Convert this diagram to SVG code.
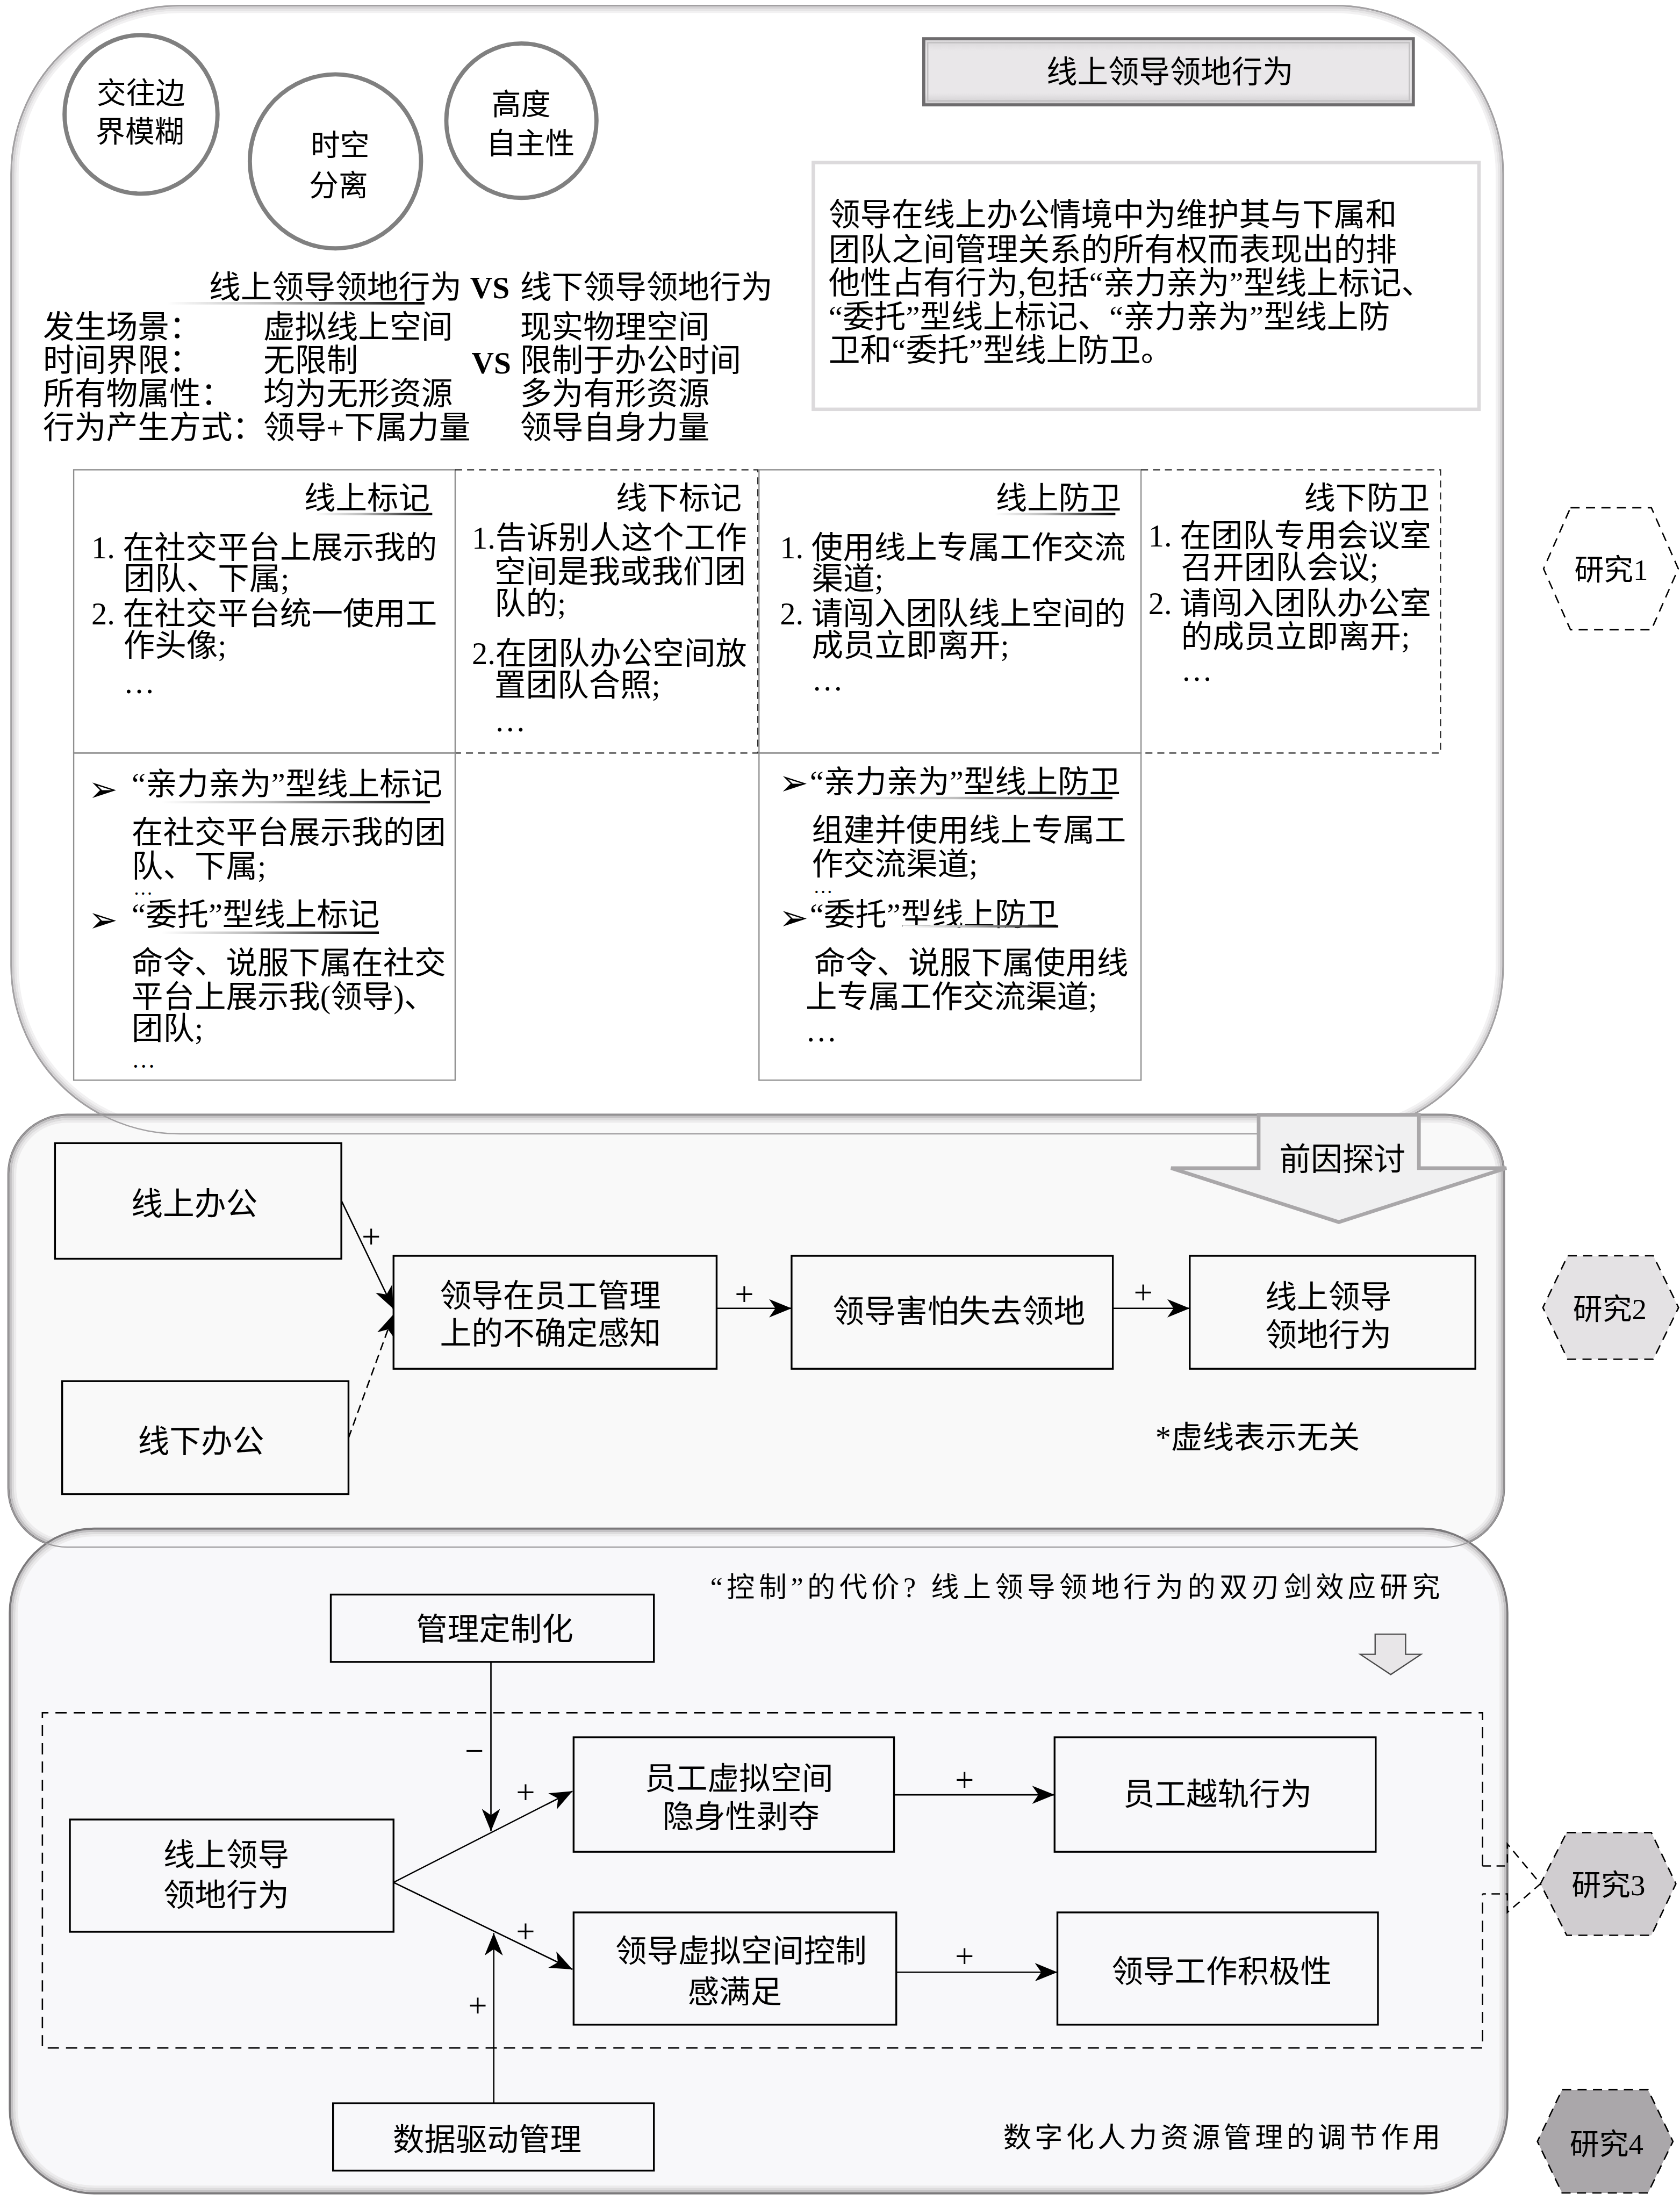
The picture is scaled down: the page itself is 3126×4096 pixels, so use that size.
<svg xmlns="http://www.w3.org/2000/svg" width="3126" height="4096" viewBox="0 0 3126 4096">
<defs>
<style>
.t{font-family:"Liberation Serif","Noto Sans CJK SC",serif;fill:#000}
.f22{font-size:22.4px}
.f225{font-size:22.5px}
.f21{font-size:21px}
.f20{font-size:20px}
.el{font-size:17px}
.el2{font-size:14px}
.pl{font-family:"Liberation Serif",serif;font-size:24px;text-anchor:middle;fill:#000}
.mid{text-anchor:middle}
.end{text-anchor:end}
.box{fill:none;stroke:#000;stroke-width:1.3}
.cell{fill:none;stroke:#8f8f8f;stroke-width:0.9}
.dcell{fill:none;stroke:#2a2a2a;stroke-width:0.9;stroke-dasharray:5 3.5}
.ln{fill:none;stroke:#000;stroke-width:1}
.dash{stroke-dasharray:6 3.5}
.hex{stroke:#000;stroke-width:1;stroke-dasharray:6.5 4.5}
.bul{font-family:"DejaVu Sans",sans-serif;font-size:25px;fill:#000}
.band{fill:none;stroke-width:1.6}
.ulr{fill:url(#ul)}
</style>
<linearGradient id="ul" x1="0" y1="0" x2="1" y2="0">
<stop offset="0" stop-color="#ffffff"/>
<stop offset="0.4" stop-color="#bdbdbd"/>
<stop offset="1" stop-color="#000000"/>
</linearGradient>
<linearGradient id="tb" x1="0" y1="0" x2="0" y2="1">
<stop offset="0" stop-color="#d6d4d6"/>
<stop offset="0.18" stop-color="#e9e7e9"/>
<stop offset="0.82" stop-color="#e9e7e9"/>
<stop offset="1" stop-color="#cfcdcf"/>
</linearGradient>
<marker id="ah" markerUnits="userSpaceOnUse" markerWidth="17" markerHeight="14" refX="16" refY="6.5" orient="auto">
<path d="M0,0 L16,6.5 L0,13 L4.5,6.5 Z" fill="#000"/>
</marker>
</defs>
<rect x="0" y="0" width="3126" height="4096" fill="#ffffff"/>
<g transform="scale(2.6115)">

<!-- Panel 1 -->
<g id="panel1">
<rect x="8" y="4" width="1063" height="804" rx="120" fill="#ffffff"/>
<rect class="band" x="9.5" y="5.5" width="1060" height="801" rx="118.5" stroke="#d4d2d4"/>
<rect class="band" x="11" y="7" width="1057" height="798" rx="117" stroke="#e6e5e6"/>
<rect class="band" x="12.5" y="8.5" width="1054" height="795" rx="115.5" stroke="#f2f1f2"/>
<rect x="8" y="4" width="1063" height="804" rx="120" fill="none" stroke="#9a989a" stroke-width="1.2"/>
</g>

<!-- Panel 2 -->
<g id="panel2">
<rect x="6" y="794.4" width="1065.6" height="308.1" rx="42" fill="#f9f9f9"/>
<rect class="band" x="7.6" y="796" width="1062.4" height="304.9" rx="40.4" stroke="#c4c2c4"/>
<rect class="band" x="9.2" y="797.6" width="1059.2" height="301.7" rx="38.8" stroke="#dddcdd"/>
<rect class="band" x="10.8" y="799.2" width="1056" height="298.5" rx="37.2" stroke="#ecebec"/>
<rect x="6" y="794.4" width="1065.6" height="308.1" rx="42" fill="none" stroke="#7b797b" stroke-width="1.5"/>
</g>
<rect id="panel1-outline" x="8" y="4" width="1063" height="804" rx="120" fill="none" stroke="#a3a1a3" stroke-width="0.9"/>

<!-- Panel 3 -->
<g id="panel3">
<rect x="7" y="1089.3" width="1067" height="473.7" rx="60" fill="#f8f8fa"/>
<rect class="band" x="8.6" y="1090.9" width="1063.8" height="470.5" rx="58.4" stroke="#c4c2c4"/>
<rect class="band" x="10.2" y="1092.5" width="1060.6" height="467.3" rx="56.8" stroke="#dddcdd"/>
<rect class="band" x="11.8" y="1094.1" width="1057.4" height="464.1" rx="55.2" stroke="#ecebec"/>
<rect x="7" y="1089.3" width="1067" height="473.7" rx="60" fill="none" stroke="#7b797b" stroke-width="1.5"/>
</g>
<rect id="panel2-outline" x="6" y="794.4" width="1065.6" height="308.1" rx="42" fill="none" stroke="#9a989a" stroke-width="0.9"/>

<!-- Circles -->
<g id="circle1">
<ellipse cx="100.5" cy="81.5" rx="54.5" ry="56.5" fill="none" stroke="#808080" stroke-width="3"/>
<text class="t f21" x="68.9" y="73.7">交往边</text>
<text class="t f21" x="68.2" y="101.1">界模糊</text>
</g>
<g id="circle2">
<ellipse cx="239" cy="115" rx="61" ry="62" fill="none" stroke="#808080" stroke-width="3"/>
<text class="t f21" x="221.3" y="110.5">时空</text>
<text class="t f21" x="220.2" y="139.5">分离</text>
</g>
<g id="circle3">
<ellipse cx="371.5" cy="86" rx="53.5" ry="55" fill="none" stroke="#808080" stroke-width="3"/>
<text class="t f21" x="350.3" y="81.4">高度</text>
<text class="t f21" x="346.5" y="109.4">自主性</text>
</g>

<!-- Title box -->
<g id="title-box">
<rect x="658.2" y="27.6" width="348.8" height="47.1" fill="url(#tb)" stroke="#6e6c6e" stroke-width="2.2"/>
<rect x="661" y="30.4" width="343.2" height="41.5" fill="none" stroke="#c2c0c2" stroke-width="1"/>
<text class="t mid" style="font-size:22px" x="833.6" y="58.9">线上领导领地行为</text>
</g>

<!-- Definition box -->
<g id="definition">
<rect x="579.5" y="115.8" width="474.3" height="175.9" fill="#ffffff" stroke="#dcdadc" stroke-width="2.5"/>
<text class="t f225" x="590.4" y="160.8">领导在线上办公情境中为维护其与下属和</text>
<text class="t f225" x="590.4" y="185.7">团队之间管理关系的所有权而表现出的排</text>
<text class="t f225" x="590.4" y="209.6">他性占有行为,包括“亲力亲为”型线上标记、</text>
<text class="t f225" x="590.4" y="233.4">“委托”型线上标记、“亲力亲为”型线上防</text>
<text class="t f225" x="590.4" y="257.3">卫和“委托”型线上防卫。</text>
</g>

<!-- VS comparison -->
<g id="comparison">
<text class="t f225" x="149" y="212.7">线上领导领地行为</text>
<text class="t" style="font-size:22px;font-weight:bold" x="335" y="212.7">VS</text>
<text class="t f225" x="370.6" y="212.7">线下领导领地行为</text>
<rect class="ulr" x="118.7" y="215.2" width="183.8" height="1.8"/>
<text class="t f225" x="30.6" y="240.7">发生场景：</text>
<text class="t f225" x="187.6" y="240.7">虚拟线上空间</text>
<text class="t f225" x="370.6" y="240.7">现实物理空间</text>
<text class="t f225" x="30.6" y="264.6">时间界限：</text>
<text class="t f225" x="187.6" y="264.6">无限制</text>
<text class="t" style="font-size:22px;font-weight:bold" x="336" y="266">VS</text>
<text class="t f225" x="370.6" y="264.6">限制于办公时间</text>
<text class="t f225" x="30.6" y="288.5">所有物属性：</text>
<text class="t f225" x="187.6" y="288.5">均为无形资源</text>
<text class="t f225" x="370.6" y="288.5">多为有形资源</text>
<text class="t f225" x="30.6" y="312.3">行为产生方式：</text>
<text class="t f225" x="187.6" y="312.3">领导+下属力量</text>
<text class="t f225" x="370.6" y="312.3">领导自身力量</text>
</g>

<!-- Table cells -->
<g id="cell-online-mark">
<rect class="cell" x="52.5" y="334.8" width="271.8" height="201.8"/>
<text class="t f22 end" x="306.3" y="362.5">线上标记</text>
<rect class="ulr" x="224" y="365.5" width="84" height="1.7"/>
<text class="t f22" x="65.1" y="397.9">1. 在社交平台上展示我的</text>
<text class="t f22" x="88" y="420.1">团队、下属;</text>
<text class="t f22" x="65.1" y="445">2. 在社交平台统一使用工</text>
<text class="t f22" x="88" y="467.5">作头像;</text>
<text class="t f22" x="88" y="494">…</text>
</g>
<g id="cell-offline-mark">
<path class="dcell" d="M324.3,334.8 H540 V536.6 H324.3"/>
<text class="t f22 end" x="528.4" y="362.5">线下标记</text>
<text class="t f22" x="336.2" y="391">1.告诉别人这个工作</text>
<text class="t f22" x="352.3" y="415">空间是我或我们团</text>
<text class="t f22" x="352.3" y="437.5">队的;</text>
<text class="t f22" x="336.2" y="473.4">2.在团队办公空间放</text>
<text class="t f22" x="352.3" y="495.9">置团队合照;</text>
<text class="t f22" x="352.3" y="521">…</text>
</g>
<g id="cell-online-defense">
<rect class="cell" x="540.8" y="334.8" width="272.2" height="201.8"/>
<text class="t f22 end" x="799" y="362.5">线上防卫</text>
<rect class="ulr" x="709" y="365.5" width="85.7" height="1.7"/>
<text class="t f22" x="555.7" y="397.9">1. 使用线上专属工作交流</text>
<text class="t f22" x="578.4" y="420.1">渠道;</text>
<text class="t f22" x="555.7" y="445">2. 请闯入团队线上空间的</text>
<text class="t f22" x="578.4" y="467.5">成员立即离开;</text>
<text class="t f22" x="578.4" y="492">…</text>
</g>
<g id="cell-offline-defense">
<path class="dcell" d="M813,334.8 H1026.4 V536.6 H813"/>
<text class="t f22 end" x="1018.7" y="362.5">线下防卫</text>
<text class="t f22" x="818.2" y="389.5">1. 在团队专用会议室</text>
<text class="t f22" x="841.6" y="412">召开团队会议;</text>
<text class="t f22" x="818.2" y="437.5">2. 请闯入团队办公室</text>
<text class="t f22" x="841.6" y="461.5">的成员立即离开;</text>
<text class="t f22" x="841.6" y="485">…</text>
</g>
<g id="cell-mark-types">
<rect class="cell" x="52.5" y="536.6" width="271.8" height="233.1"/>
<text class="bul" x="63" y="571">➢</text>
<text class="t f22" x="93.8" y="566.4">“亲力亲为”型线上标记</text>
<rect class="ulr" x="114.9" y="570.8" width="191.4" height="1.7"/>
<text class="t f22" x="93.8" y="600.9">在社交平台展示我的团</text>
<text class="t f22" x="93.8" y="624.9">队、下属;</text>
<text class="t el2" x="95" y="637.5">…</text>
<text class="bul" x="63" y="664">➢</text>
<text class="t f22" x="93.8" y="659.4">“委托”型线上标记</text>
<rect class="ulr" x="114.9" y="663.8" width="155.1" height="1.7"/>
<text class="t f22" x="93.8" y="693.9">命令、说服下属在社交</text>
<text class="t f22" x="93.8" y="717.9">平台上展示我(领导)、</text>
<text class="t f22" x="93.8" y="740.4">团队;</text>
<text class="t el" x="93.8" y="761">…</text>
</g>
<g id="cell-defense-types">
<rect class="cell" x="540.8" y="536.6" width="272.2" height="233.1"/>
<text class="bul" x="555" y="566.5">➢</text>
<text class="t f22" x="577" y="564.9">“亲力亲为”型线上防卫</text>
<rect class="ulr" x="607" y="567.8" width="185.6" height="1.7"/>
<text class="t f22" x="578.4" y="599.4">组建并使用线上专属工</text>
<text class="t f22" x="578.4" y="623.4">作交流渠道;</text>
<text class="t el2" x="579.5" y="636.5">…</text>
<text class="bul" x="555" y="662.5">➢</text>
<text class="t f22" x="577" y="659.4">“委托”型线上防卫</text>
<rect class="ulr" x="643" y="659.3" width="111" height="1.7"/>
<text class="t f22" x="580" y="693.9">命令、说服下属使用线</text>
<text class="t f22" x="574" y="717.9">上专属工作交流渠道;</text>
<text class="t f22" x="574" y="742">…</text>
</g>

<!-- Study hexagons -->
<g id="study1">
<polygon class="hex" points="1119,361.8 1176.6,361.8 1195.8,405.3 1176.6,448.8 1119,448.8 1099.8,405.3" fill="#ffffff" stroke-width="0.8"/>
<text class="t f21 mid" x="1148" y="413">研究1</text>
</g>
<g id="study2">
<polygon class="hex" points="1117,894.9 1178,894.9 1196,931.8 1178,968.6 1117,968.6 1099.3,931.8" fill="#e4e2e4"/>
<text class="t f21 mid" x="1147" y="940">研究2</text>
</g>
<g id="study3">
<polygon class="hex" points="1116.3,1305.9 1176.6,1305.9 1194.1,1342.4 1176.6,1379.1 1116.3,1379.1 1097.6,1342.4" fill="#d0cdd0"/>
<text class="t f21 mid" x="1146" y="1350.6">研究3</text>
</g>
<g id="study4">
<polygon class="hex" points="1113,1489.2 1174.2,1489.2 1192,1526 1174.2,1562.7 1113,1562.7 1095.4,1526" fill="#aaa7aa"/>
<text class="t f21 mid" x="1144.7" y="1535.3">研究4</text>
</g>

<!-- Panel 2 nodes -->
<g id="n-online-office">
<rect class="box" x="39.2" y="814.6" width="204" height="82.4"/>
<text class="t f225 mid" x="138.5" y="865.7">线上办公</text>
</g>
<g id="n-offline-office">
<rect class="box" x="44.3" y="984.2" width="204" height="80.5"/>
<text class="t f225 mid" x="143.2" y="1034.9">线下办公</text>
</g>
<g id="n-uncertainty">
<rect class="box" x="280.4" y="894.9" width="230.2" height="80.5"/>
<text class="t f225" x="313.4" y="931.1">领导在员工管理</text>
<text class="t f225" x="313.4" y="958.2">上的不确定感知</text>
</g>
<g id="n-fear">
<rect class="box" x="564" y="894.9" width="228.9" height="80.5"/>
<text class="t f225 mid" x="683.2" y="942.5">领导害怕失去领地</text>
</g>
<g id="n-territorial2">
<rect class="box" x="847.7" y="894.9" width="203.5" height="80.5"/>
<text class="t f225 mid" x="946.5" y="932.2">线上领导</text>
<text class="t f225 mid" x="946.5" y="959.2">领地行为</text>
</g>
<text class="t f22" x="823.2" y="1031.8">*虚线表示无关</text>

<!-- Panel 3 nodes -->
<text class="t f20" x="506" y="1138.2" textLength="520" lengthAdjust="spacing">“控制”的代价? 线上领导领地行为的双刃剑效应研究</text>
<text class="t f20" x="714.8" y="1530" textLength="311.5" lengthAdjust="spacing">数字化人力资源管理的调节作用</text>
<g id="study3-frame">
<path fill="none" stroke="#000" stroke-width="1" stroke-dasharray="8 5" d="M1056.3,1329.7 V1220.5 H30.2 V1459.4 H1056.3 V1349.6"/>
</g>
<g id="n-customization">
<rect class="box" x="235.7" y="1136.3" width="230.2" height="48"/>
<text class="t f22 mid" x="352.5" y="1168.5">管理定制化</text>
</g>
<g id="n-territorial3">
<rect class="box" x="49.8" y="1296.6" width="230.6" height="80"/>
<text class="t f22 mid" x="161.2" y="1329.4">线上领导</text>
<text class="t f22 mid" x="161.2" y="1358.2">领地行为</text>
</g>
<g id="n-invisibility">
<rect class="box" x="408.7" y="1238" width="228.3" height="81.6"/>
<text class="t f22 mid" x="526.5" y="1275">员工虚拟空间</text>
<text class="t f22 mid" x="528" y="1302.2">隐身性剥夺</text>
</g>
<g id="n-control">
<rect class="box" x="408.7" y="1362.8" width="229.9" height="80"/>
<text class="t f22 mid" x="528" y="1398.2">领导虚拟空间控制</text>
<text class="t f22 mid" x="523.6" y="1427">感满足</text>
</g>
<g id="n-deviance">
<rect class="box" x="751.4" y="1238" width="228.8" height="81.6"/>
<text class="t f22 mid" x="867.5" y="1286.2">员工越轨行为</text>
</g>
<g id="n-proactivity">
<rect class="box" x="753.4" y="1362.8" width="228.4" height="80"/>
<text class="t f22 mid" x="870.5" y="1412.6">领导工作积极性</text>
</g>
<g id="n-datadriven">
<rect class="box" x="237.3" y="1498.8" width="228.6" height="48"/>
<text class="t f22 mid" x="347.1" y="1532.5">数据驱动管理</text>
</g>

<!-- Connectors -->
<g id="connectors">
<path class="ln" d="M243.2,855.5 L280.4,932.8" marker-end="url(#ah)"/>
<path class="ln dash" d="M248.3,1024.7 L280.4,936.5" marker-end="url(#ah)"/>
<path class="ln" d="M510.6,932.3 L564,932.3" marker-end="url(#ah)"/>
<path class="ln" d="M792.9,932.3 L847.7,932.3" marker-end="url(#ah)"/>
<path class="ln" stroke-width="1.1" d="M349.8,1184.3 L349.8,1305" marker-end="url(#ah)"/>
<path class="ln" stroke-width="1.1" d="M280.4,1341.4 L407.9,1276.4" marker-end="url(#ah)"/>
<path class="ln" stroke-width="1.1" d="M280.4,1341.4 L407.9,1403.4" marker-end="url(#ah)"/>
<path class="ln" stroke-width="1.1" d="M351.8,1498.8 L351.8,1377.5" marker-end="url(#ah)"/>
<path class="ln" stroke-width="1.1" d="M637,1279 L751.4,1279" marker-end="url(#ah)"/>
<path class="ln" stroke-width="1.1" d="M638.6,1405.4 L753.4,1405.4" marker-end="url(#ah)"/>
<path fill="none" stroke="#000" stroke-width="1" stroke-dasharray="6 4" d="M1056.3,1329.7 H1074 V1314 L1097.6,1342.4 L1074,1362.8 V1349.6 H1056.3"/>
<text class="pl" x="264.5" y="889.5">+</text>
<text class="pl" x="530.3" y="930.5">+</text>
<text class="pl" x="814.5" y="929.5">+</text>
<text class="pl" x="338" y="1255.5">−</text>
<text class="pl" x="374.5" y="1285.5">+</text>
<text class="pl" x="374.5" y="1384.7">+</text>
<text class="pl" x="340.4" y="1437.5">+</text>
<text class="pl" x="687.2" y="1276.5">+</text>
<text class="pl" x="687.2" y="1402.3">+</text>
</g>

<!-- Big arrow 前因探讨 -->
<g id="arrow-antecedents">
<polygon points="896.8,794.4 1011,794.4 1011,832.4 1073.3,832.4 953.9,870.9 834.4,832.4 896.8,832.4" fill="#f0f0f1" stroke="#a9a7a9" stroke-width="2.6"/>
<text class="t f225" x="911.5" y="834">前因探讨</text>
</g>
<!-- Small arrow -->
<g id="arrow-small">
<polygon points="979.8,1164.5 1001.5,1164.5 1001.5,1178.9 1012.5,1178.9 990.9,1193.3 969.2,1178.9 979.8,1178.9" fill="#e8e6e8" stroke="#4a4a4a" stroke-width="0.9"/>
</g>

</g>
</svg>
